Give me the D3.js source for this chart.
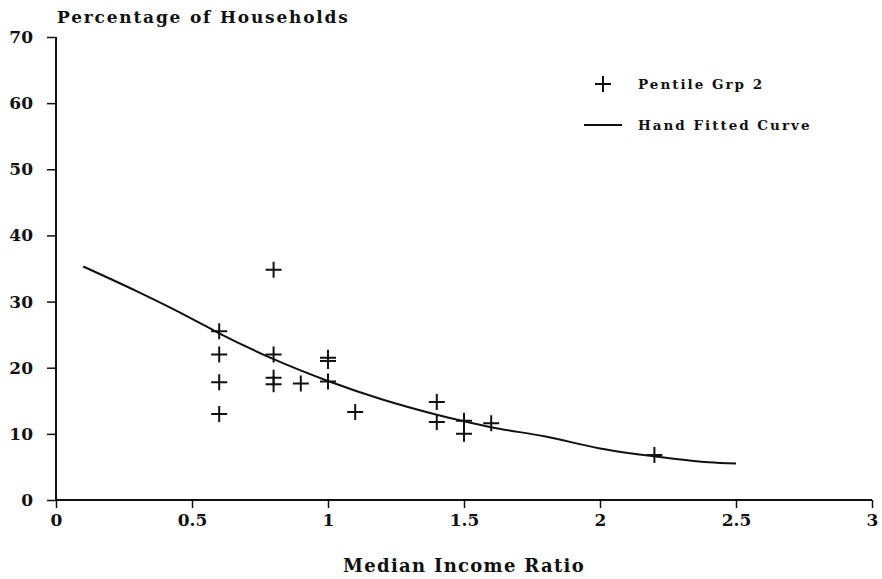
<!DOCTYPE html>
<html>
<head>
<meta charset="utf-8">
<script src="https://cdn.jsdelivr.net/npm/d3@7"></script>
<style>
  body { margin: 0; background: #fff; }
  svg text { font-family: "DejaVu Serif", "Liberation Serif", serif; font-weight: bold; fill: #111; }
</style>
</head>
<body>
<svg id="chart" width="882" height="579"></svg>
<script>
// scatter: Pentile Grp 2
const pointX = [0.6, 0.6, 0.6, 0.6, 0.8, 0.8, 0.8, 0.8, 0.9, 1.0, 1.0, 1.0, 1.1, 1.4, 1.4, 1.5, 1.5, 1.6, 2.2];
const pointY = [25.5, 22, 17.8, 13, 34.8, 22, 18.5, 17.5, 17.6, 21.5, 21, 17.9, 13.3, 14.8, 11.8, 12, 10, 11.6, 6.8];

// hand fitted curve
const curveX = [0.1, 0.3, 0.5, 0.6, 0.8, 1.0, 1.2, 1.4, 1.5, 1.6, 1.8, 2.0, 2.2, 2.4, 2.5];
const curveY = [35.3, 31.5, 27.4, 25.2, 21.3, 18.0, 15.2, 12.9, 11.9, 11.0, 9.6, 7.8, 6.6, 5.7, 5.5];

const xTicks = [0, 0.5, 1, 1.5, 2, 2.5, 3];
const yTicks = [0, 10, 20, 30, 40, 50, 60, 70];

const svg = d3.select('#chart');
const x = d3.scaleLinear().domain([0, 3]).range([56, 872]);
const y = d3.scaleLinear().domain([0, 70]).range([500, 37]);

// axes
const xAxis = svg.append('g')
  .attr('transform', `translate(0,${y(0)})`)
  .call(d3.axisBottom(x).tickValues(xTicks).tickSize(8).tickPadding(6)
    .tickFormat(d => d));
const yAxis = svg.append('g')
  .attr('transform', `translate(${x(0)},0)`)
  .call(d3.axisLeft(y).tickValues(yTicks).tickSize(9).tickPadding(14));

[xAxis, yAxis].forEach(g => {
  g.select('.domain').attr('stroke', '#111').attr('stroke-width', 2);
  g.selectAll('.tick line').attr('stroke', '#111').attr('stroke-width', 1.5);
  g.selectAll('.tick text').attr('font-size', 17).attr('fill', '#111');
});
xAxis.select('.domain').attr('d', `M${x(0)},0H${x(3)}`);
yAxis.select('.domain').attr('d', `M0,${y(70)}V${y(0)}`);

// titles
svg.append('text')
  .attr('x', 57).attr('y', 23)
  .attr('font-size', 17)
  .attr('letter-spacing', 1.8)
  .text('Percentage of Households');
svg.append('text')
  .attr('x', x(1.5)).attr('y', 572)
  .attr('text-anchor', 'middle')
  .attr('font-size', 18)
  .attr('letter-spacing', 1.3)
  .text('Median Income Ratio');

// curve
const line = d3.line()
  .x((d, i) => x(curveX[i]))
  .y(d => y(d))
  .curve(d3.curveMonotoneX);
svg.append('path')
  .datum(curveY)
  .attr('d', line)
  .attr('fill', 'none')
  .attr('stroke', '#111')
  .attr('stroke-width', 2);

// plus markers
const half = 8;
const marks = svg.append('g');
pointX.forEach((px, i) => {
  const cx = x(px), cy = y(pointY[i]);
  marks.append('path')
    .attr('d', `M${cx - half},${cy}H${cx + half}M${cx},${cy - half}V${cy + half}`)
    .attr('stroke', '#111')
    .attr('stroke-width', 2)
    .attr('fill', 'none');
});

// legend
const legend = svg.append('g');
legend.append('path')
  .attr('d', `M${603 - half},84H${603 + half}M603,${84 - half}V${84 + half}`)
  .attr('stroke', '#111').attr('stroke-width', 2);
legend.append('text').attr('x', 638).attr('y', 89).attr('font-size', 13.5)
  .attr('letter-spacing', 2).text('Pentile Grp 2');
legend.append('line')
  .attr('x1', 584).attr('x2', 622).attr('y1', 125).attr('y2', 125)
  .attr('stroke', '#111').attr('stroke-width', 2);
legend.append('text').attr('x', 638).attr('y', 130).attr('font-size', 13.5)
  .attr('letter-spacing', 2).text('Hand Fitted Curve');
</script>
</body>
</html>
